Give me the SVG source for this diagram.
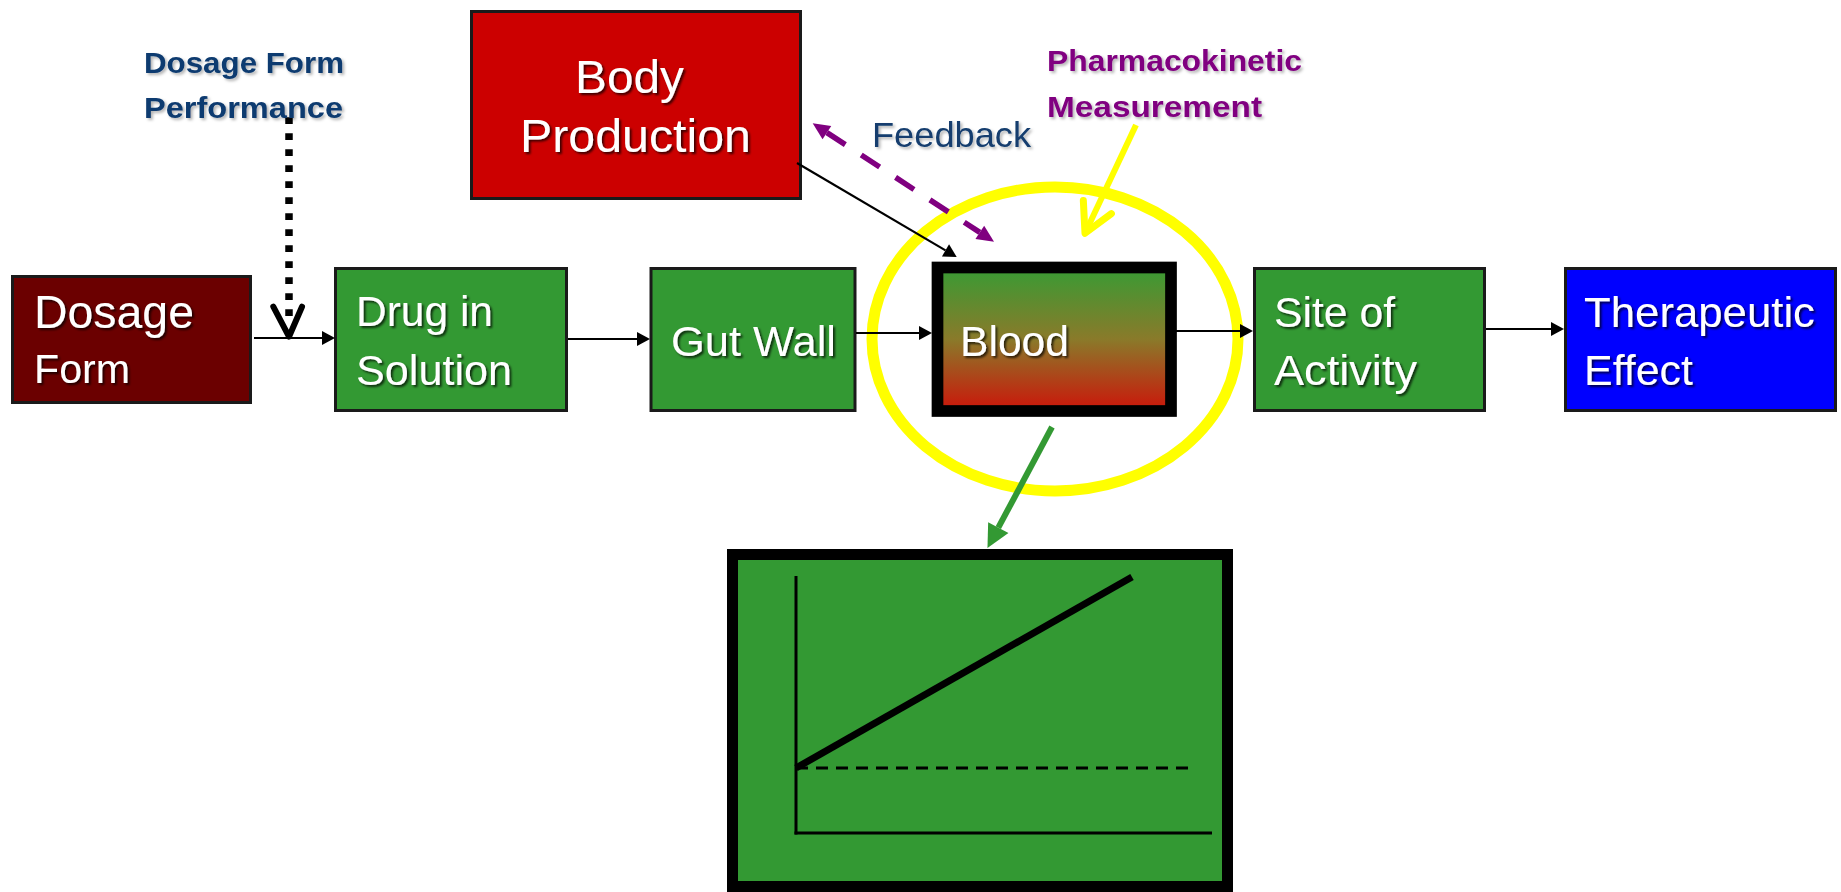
<svg xmlns="http://www.w3.org/2000/svg" width="1841" height="892" viewBox="0 0 1841 892">
<defs>
<style>
.box{stroke:#1a1a1a;stroke-width:3}
.green{fill:#339933}
.lbl{font-family:"Liberation Sans",Arial,sans-serif;fill:#fff;filter:url(#sd)}
.hd{font-family:"Liberation Sans",Arial,sans-serif;font-weight:bold;font-size:30px;filter:url(#sl)}
.conn{stroke:#000;stroke-width:2.2;fill:none}
</style>
<linearGradient id="bloodGrad" x1="0" y1="0" x2="0" y2="1">
<stop offset="0" stop-color="#389B34"/>
<stop offset="0.5" stop-color="#8A7A2A"/>
<stop offset="1" stop-color="#CC150A"/>
</linearGradient>
<filter id="sd" x="-10%" y="-20%" width="130%" height="150%">
<feDropShadow dx="2" dy="2" stdDeviation="1" flood-color="#000" flood-opacity="0.7"/>
</filter>
<filter id="sl" x="-10%" y="-20%" width="130%" height="150%">
<feDropShadow dx="2" dy="2" stdDeviation="1.5" flood-color="#000" flood-opacity="0.3"/>
</filter>
<marker id="arrBlack" markerUnits="userSpaceOnUse" markerWidth="14" markerHeight="14" refX="0" refY="7" orient="auto" overflow="visible">
<path d="M0,0 L13,7 L0,14 Z" fill="#000"/>
</marker>
<marker id="arrPurple" markerUnits="userSpaceOnUse" markerWidth="18" markerHeight="16" refX="0" refY="8" orient="auto-start-reverse" overflow="visible">
<path d="M0,0 L17,8 L0,16 Z" fill="#800080"/>
</marker>
<marker id="arrGreen" markerUnits="userSpaceOnUse" markerWidth="24" markerHeight="23" refX="0" refY="11.5" orient="auto" overflow="visible">
<path d="M0,0 L23,11.5 L0,23 Z" fill="#339933"/>
</marker>
<marker id="vYellow" markerUnits="userSpaceOnUse" markerWidth="40" markerHeight="40" refX="0" refY="0" orient="auto" overflow="visible">
<path d="M-29,-15.5 L0,0 L-29,15.5" fill="none" stroke="#FFFF00" stroke-width="7" stroke-linecap="round" stroke-linejoin="round"/>
</marker>
<marker id="vBlack" markerUnits="userSpaceOnUse" markerWidth="40" markerHeight="40" refX="0" refY="0" orient="auto" overflow="visible">
<path d="M-30,-14 L0,0 L-30,14" fill="none" stroke="#000" stroke-width="6" stroke-linecap="round" stroke-linejoin="round"/>
</marker>
</defs>

<rect width="1841" height="892" fill="#fff"/>

<g id="node-body-production">
<rect class="box" x="471.5" y="11.5" width="329" height="187" fill="#CC0000"/>
<text class="lbl" x="575" y="93" font-size="46" textLength="109" lengthAdjust="spacingAndGlyphs">Body</text>
<text class="lbl" x="520" y="152" font-size="46" textLength="231" lengthAdjust="spacingAndGlyphs">Production</text>
</g>

<g id="node-dosage-form">
<rect class="box" x="12.5" y="276.5" width="238" height="126" fill="#6B0000"/>
<text class="lbl" x="34" y="328" font-size="46" textLength="160" lengthAdjust="spacingAndGlyphs">Dosage</text>
<text class="lbl" x="34" y="383" font-size="40" textLength="96" lengthAdjust="spacingAndGlyphs">Form</text>
</g>

<g id="node-drug-in-solution">
<rect class="box green" x="335.5" y="268.5" width="231" height="142"/>
<text class="lbl" x="356" y="326" font-size="42" textLength="137" lengthAdjust="spacingAndGlyphs">Drug in</text>
<text class="lbl" x="356" y="385" font-size="42" textLength="156" lengthAdjust="spacingAndGlyphs">Solution</text>
</g>

<g id="node-gut-wall">
<rect class="box green" x="651" y="268.5" width="204" height="142"/>
<text class="lbl" x="671" y="356" font-size="42" textLength="165" lengthAdjust="spacingAndGlyphs">Gut Wall</text>
</g>

<g id="node-blood">
<rect x="937.5" y="267.5" width="233.5" height="143.5" fill="url(#bloodGrad)" stroke="#000" stroke-width="11.7"/>
<text class="lbl" x="960" y="356" font-size="42" textLength="109" lengthAdjust="spacingAndGlyphs">Blood</text>
</g>

<g id="node-site-of-activity">
<rect class="box green" x="1254.5" y="268.5" width="230" height="142"/>
<text class="lbl" x="1274" y="327" font-size="42" textLength="121" lengthAdjust="spacingAndGlyphs">Site of</text>
<text class="lbl" x="1274" y="385" font-size="42" textLength="143" lengthAdjust="spacingAndGlyphs">Activity</text>
</g>

<g id="node-therapeutic-effect">
<rect class="box" x="1565.5" y="268.5" width="270" height="142" fill="#0000FF"/>
<text class="lbl" x="1584" y="327" font-size="42" textLength="231" lengthAdjust="spacingAndGlyphs">Therapeutic</text>
<text class="lbl" x="1584" y="385" font-size="42" textLength="109" lengthAdjust="spacingAndGlyphs">Effect</text>
</g>

<g id="node-pk-ellipse">
<ellipse cx="1055" cy="339" rx="183" ry="152" fill="none" stroke="#FFFF00" stroke-width="11"/>
</g>

<g id="node-graph">
<rect x="732.5" y="554.5" width="495" height="332" fill="#339933" stroke="#000" stroke-width="11"/>
<line x1="796" y1="576" x2="796" y2="834.5" stroke="#000" stroke-width="3"/>
<line x1="794.5" y1="833" x2="1212" y2="833" stroke="#000" stroke-width="3"/>
<line x1="796" y1="768" x2="1196" y2="768" stroke="#000" stroke-width="3" stroke-dasharray="12 8"/>
<line x1="796" y1="768" x2="1132" y2="577" stroke="#000" stroke-width="7"/>
</g>

<g id="connectors">
<line class="conn" x1="254" y1="338" x2="322" y2="338" marker-end="url(#arrBlack)"/>
<line class="conn" x1="568" y1="339" x2="637" y2="339" marker-end="url(#arrBlack)"/>
<line class="conn" x1="856" y1="333" x2="919" y2="333" marker-end="url(#arrBlack)"/>
<line class="conn" x1="1176" y1="331" x2="1240" y2="331" marker-end="url(#arrBlack)"/>
<line class="conn" x1="1486" y1="329" x2="1551" y2="329" marker-end="url(#arrBlack)"/>
<line class="conn" x1="797" y1="163" x2="945.5" y2="250.4" marker-end="url(#arrBlack)"/>
<line x1="826.9" y1="132.6" x2="979.8" y2="232.4" stroke="#800080" stroke-width="5.5" stroke-dasharray="22 19" marker-start="url(#arrPurple)" marker-end="url(#arrPurple)"/>
<line x1="1136" y1="125" x2="1085" y2="233.3" stroke="#FFFF00" stroke-width="6" marker-end="url(#vYellow)"/>
<line x1="1052" y1="427" x2="998.3" y2="527.7" stroke="#339933" stroke-width="6" marker-end="url(#arrGreen)"/>
<line x1="289" y1="117.3" x2="289" y2="318" stroke="#000" stroke-width="7.5" stroke-dasharray="6.7 9.3"/>
<path d="M273.3,306.7 L289,336.7 L302,306.7" fill="none" stroke="#000" stroke-width="6" stroke-linecap="round" stroke-linejoin="round"/>
</g>

<g id="labels">
<text class="hd" x="144" y="73" fill="#0E3B6F" textLength="200" lengthAdjust="spacingAndGlyphs">Dosage Form</text>
<text class="hd" x="144" y="118" fill="#0E3B6F" textLength="199" lengthAdjust="spacingAndGlyphs">Performance</text>
<text class="hd" x="1047" y="71" fill="#800080" textLength="255" lengthAdjust="spacingAndGlyphs">Pharmacokinetic</text>
<text class="hd" x="1047" y="117" fill="#800080" textLength="215" lengthAdjust="spacingAndGlyphs">Measurement</text>
<text x="872" y="147" font-family="'Liberation Sans',Arial,sans-serif" font-size="35" fill="#133D6E" filter="url(#sl)" textLength="159" lengthAdjust="spacingAndGlyphs">Feedback</text>
</g>
</svg>
